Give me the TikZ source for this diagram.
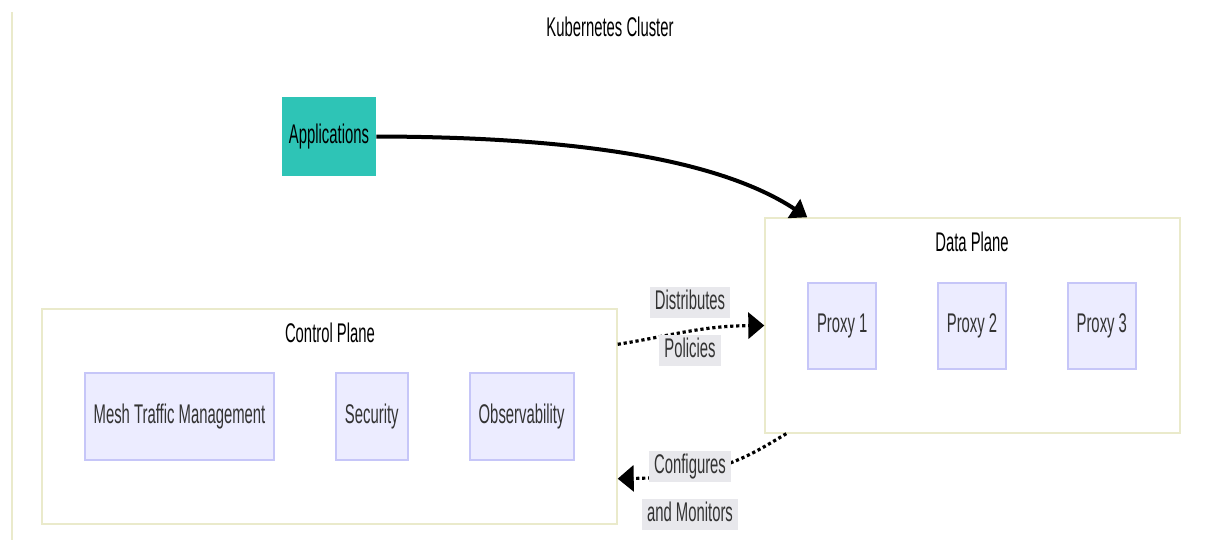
\documentclass[tikz,border=0pt]{standalone}
\usepackage{fontspec}
\setmainfont[FakeStretch=0.55]{Liberation Sans}
\usetikzlibrary{arrows.meta,positioning}

\definecolor{appteal}{HTML}{2EC4B6}
\definecolor{clusterline}{HTML}{EAEACB}
\definecolor{partline}{HTML}{C6C6F8}
\definecolor{partfill}{HTML}{ECECFF}
\definecolor{labelgray}{HTML}{E8E8EC}
\definecolor{textgray}{HTML}{333333}

\begin{document}
\begin{tikzpicture}[x=0.5pt, y=-0.5pt,
                    every node/.style = {font=\fontsize{13.5pt}{16pt}\selectfont,
                    align=center},
                    cluster/.style = {draw=clusterline, fill=white, line width=0.7pt,
                    minimum height=107.5pt},
                    part/.style = {draw=partline, fill=partfill, line width=0.9pt,
                    minimum height=43.5pt, text=textgray},
                    edgelabel/.style = {fill=labelgray, text=textgray, inner xsep=2.5pt,
                    inner ysep=1.6pt, text height=9.7pt, text depth=2.6pt},
                    flow/.style = {line width=1.6pt, dash pattern=on 1.6pt off 1.4pt,
                    -{Triangle[length=8pt,width=13pt]}},
                    calls/.style = {line width=2pt, -{Triangle[length=8pt,width=11pt]}}]
  \useasboundingbox (0,0) rectangle (1208,540);

  % outer cluster (only its left side shows)
  \draw[clusterline, line width=0.6pt] (12,12) -- (12,540);
  \node (k8stitle) at (610,27) {Kubernetes Cluster};

  \node[fill=appteal, minimum width=47pt, minimum height=39.5pt] (app) at (329,136.5) {Applications};

  % data plane
  \node[cluster, minimum width=207.5pt] (dp) at (972.5,325.5) {};
  \node (dptitle) at (972,242) {Data Plane};
  \node[part, minimum width=34pt, minimum height=43pt] (proxy2) at (972,326) {Proxy 2};
  \node[part, minimum width=34pt, minimum height=43pt, left=30pt of proxy2] (proxy1) {Proxy 1};
  \node[part, minimum width=34pt, minimum height=43pt, right=30pt of proxy2] (proxy3) {Proxy 3};

  % control plane
  \node[cluster, minimum width=287.5pt] (cp) at (329.5,416.5) {};
  \node (cptitle) at (330,333) {Control Plane};
  \node[part, minimum width=94.5pt] (mesh) at (179.5,416.5) {Mesh Traffic Management};
  \node[part, minimum width=36pt, right=30pt of mesh] (sec) {Security};
  \node[part, minimum width=52pt, right=30pt of sec] (obs) {Observability};

  % edges
  \draw[calls] (app.east) .. controls (580,137) and (720,160) .. ([xshift=21.5pt]dp.north west);
  \draw[flow] ([yshift=-18pt]cp.north east) .. controls (670,336) and (700,326) .. (dp.west);
  \draw[flow] ([xshift=11pt]dp.south west) .. controls (750,455) and (720,477) .. ([yshift=23pt]cp.south east);

  \node[edgelabel] (distlbl) at (690,302) {Distributes};
  \node[edgelabel] (pollbl) at (690,350) {Policies};
  \node[edgelabel] (conflbl) at (690,466) {Configures};
  \node[edgelabel] (monlbl) at (690,514) {and Monitors};
\end{tikzpicture}
\end{document}
